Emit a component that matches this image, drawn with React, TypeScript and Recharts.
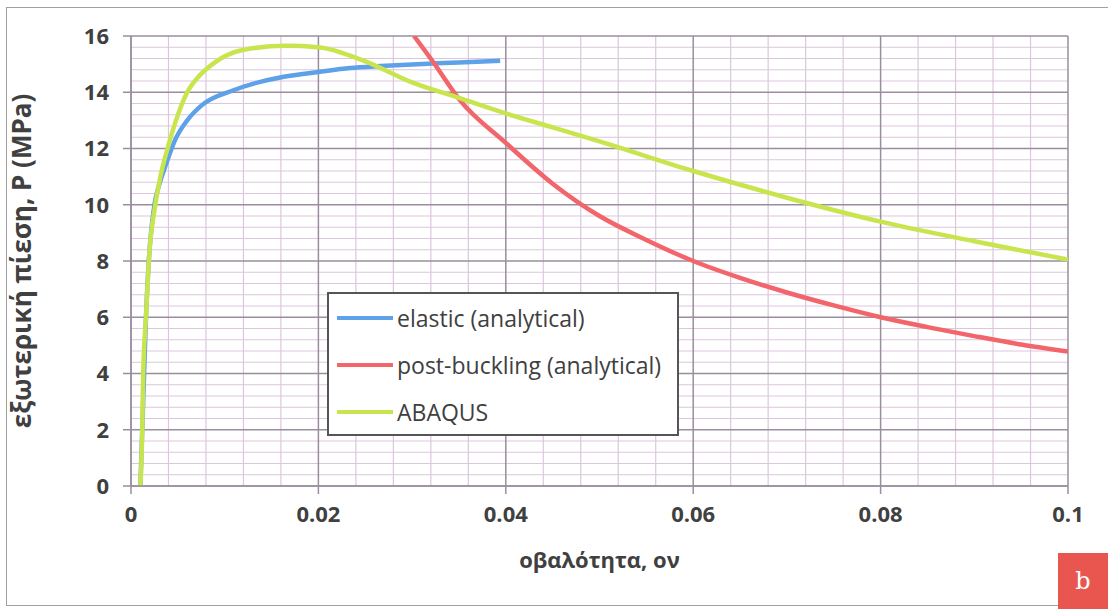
import React from "react";
import {
  LineChart,
  Line,
  XAxis,
  YAxis,
  ReferenceLine,
  Legend,
} from "recharts";

// ---- data ----
const elastic = [
  { v: 0.001, p: 0 },
  { v: 0.0012, p: 2 },
  { v: 0.0014, p: 4 },
  { v: 0.0016, p: 6 },
  { v: 0.0019, p: 8 },
  { v: 0.0025, p: 10 },
  { v: 0.003, p: 10.7 },
  { v: 0.0037, p: 11.4 },
  { v: 0.0047, p: 12.3 },
  { v: 0.006, p: 13.0 },
  { v: 0.0076, p: 13.55 },
  { v: 0.011, p: 14.08 },
  { v: 0.0163, p: 14.55 },
  { v: 0.02, p: 14.72 },
  { v: 0.0234, p: 14.86 },
  { v: 0.0266, p: 14.93 },
  { v: 0.03, p: 14.99 },
  { v: 0.035, p: 15.06 },
  { v: 0.0394, p: 15.12 },
];

const postBuckling = [
  { v: 0.0302, p: 16 },
  { v: 0.0323, p: 15.05 },
  { v: 0.0351, p: 13.72 },
  { v: 0.04, p: 12.2 },
  { v: 0.045, p: 10.75 },
  { v: 0.05, p: 9.6 },
  { v: 0.055, p: 8.75 },
  { v: 0.06, p: 8.0 },
  { v: 0.065, p: 7.4 },
  { v: 0.07, p: 6.88 },
  { v: 0.075, p: 6.42 },
  { v: 0.08, p: 6.0 },
  { v: 0.085, p: 5.65 },
  { v: 0.09, p: 5.33 },
  { v: 0.095, p: 5.03 },
  { v: 0.1, p: 4.78 },
];

const abaqus = [
  { v: 0.001, p: 0 },
  { v: 0.0012, p: 2 },
  { v: 0.0013, p: 4 },
  { v: 0.0016, p: 6 },
  { v: 0.0019, p: 8 },
  { v: 0.0026, p: 10 },
  { v: 0.0032, p: 11.1 },
  { v: 0.0039, p: 12 },
  { v: 0.0048, p: 13 },
  { v: 0.006, p: 14 },
  { v: 0.0072, p: 14.55 },
  { v: 0.0087, p: 15 },
  { v: 0.0119, p: 15.5 },
  { v: 0.0165, p: 15.65 },
  { v: 0.02, p: 15.6 },
  { v: 0.025, p: 15.1 },
  { v: 0.03, p: 14.35 },
  { v: 0.035, p: 13.8 },
  { v: 0.04, p: 13.25 },
  { v: 0.045, p: 12.75 },
  { v: 0.05, p: 12.25 },
  { v: 0.06, p: 11.2 },
  { v: 0.07, p: 10.25 },
  { v: 0.08, p: 9.4 },
  { v: 0.09, p: 8.7 },
  { v: 0.1, p: 8.05 },
];

const seriesNames = ["elastic (analytical)", "post-buckling (analytical)", "ABAQUS"];
const seriesColors = ["#5da2e8", "#f2666b", "#c8e54e"];
const seriesData = [elastic, postBuckling, abaqus];

const xTicks = [0, 0.02, 0.04, 0.06, 0.08, 0.1];
const yTicks = [0, 2, 4, 6, 8, 10, 12, 14, 16];
const xMinor = [
  0.004, 0.008, 0.012, 0.016, 0.024, 0.028, 0.032, 0.036, 0.044, 0.048, 0.052,
  0.056, 0.064, 0.068, 0.072, 0.076, 0.084, 0.088, 0.092, 0.096,
];
const yMinor = [
  0.4, 0.8, 1.2, 1.6, 2.4, 2.8, 3.2, 3.6, 4.4, 4.8, 5.2, 5.6, 6.4, 6.8, 7.2, 7.6,
  8.4, 8.8, 9.2, 9.6, 10.4, 10.8, 11.2, 11.6, 12.4, 12.8, 13.2, 13.6, 14.4, 14.8,
  15.2, 15.6,
];

const xLabel = "οβαλότητα, ον";
const yLabel = "εξωτερική πίεση, P (MPa)";

const FONT = "'Open Sans', 'Noto Sans', sans-serif";
const TEXT = "#404040";
const MINOR = "#dcc6de";
const MAJOR = "#9a8e9e";

const LegendBox = () => (
  <div
    style={{
      position: "absolute",
      left: 327,
      top: 292,
      width: 352,
      height: 144,
      border: "2px solid #555",
      background: "#fff",
      boxSizing: "border-box",
      fontFamily: FONT,
      fontSize: 23,
      color: TEXT,
      paddingTop: 0,
    }}
  >
    {seriesNames.map((n, i) => (
      <div
        key={n}
        style={{ display: "flex", alignItems: "center", height: 47, paddingLeft: 8 }}
      >
        <div
          style={{ width: 56, height: 4, background: seriesColors[i], marginRight: 4 }}
        />
        <span>{n}</span>
      </div>
    ))}
  </div>
);

export default function App() {
  return (
    <div
      style={{
        position: "fixed",
        left: 0,
        top: 0,
        width: 1108,
        height: 609,
        background: "#fff",
        overflow: "hidden",
      }}
    >
      <div
        style={{
          position: "absolute",
          left: 6,
          top: 7,
          width: 1110,
          height: 599,
          border: "1.5px solid #a0a0a0",
          boxSizing: "border-box",
        }}
      />
      <LineChart
        width={1108}
        height={609}
        margin={{ top: 36, right: 40, left: 0, bottom: 0 }}
        style={{ position: "absolute", left: 0, top: 0 }}
      >
        {xMinor.map((x) => (
          <ReferenceLine key={"xm" + x} x={x} stroke={MINOR} strokeWidth={1.2} />
        ))}
        {yMinor.map((y) => (
          <ReferenceLine key={"ym" + y} y={y} stroke={MINOR} strokeWidth={1.2} />
        ))}
        {xTicks.map((x) => (
          <ReferenceLine key={"xM" + x} x={x} stroke={MAJOR} strokeWidth={1.5} />
        ))}
        {yTicks.map((y) => (
          <ReferenceLine key={"yM" + y} y={y} stroke={MAJOR} strokeWidth={1.5} />
        ))}
        <XAxis
          type="number"
          dataKey="v"
          domain={[0, 0.1]}
          ticks={xTicks}
          allowDataOverflow
          height={123}
          tickSize={8}
          tickMargin={12}
          stroke={MAJOR}
          strokeWidth={1.5}
          tick={{ fill: TEXT, fontFamily: FONT, fontSize: 22, fontWeight: 700 }}
          label={{
            value: xLabel,
            position: "insideTop",
            offset: 66,
            fill: TEXT,
            fontFamily: FONT,
            fontSize: 22,
            fontWeight: 700,
          }}
        />
        <YAxis
          type="number"
          dataKey="p"
          domain={[0, 16]}
          ticks={yTicks}
          allowDataOverflow
          width={131}
          tickSize={8}
          tickMargin={14}
          stroke={MAJOR}
          strokeWidth={1.5}
          tick={{ fill: TEXT, fontFamily: FONT, fontSize: 22, fontWeight: 700 }}
          label={{
            value: yLabel,
            angle: -90,
            position: "insideLeft",
            offset: 22,
            style: { textAnchor: "middle" },
            fill: TEXT,
            fontFamily: FONT,
            fontSize: 26,
            fontWeight: 700,
          }}
        />
        {seriesData.map((d, i) => (
          <Line
            key={seriesNames[i]}
            data={d}
            dataKey="p"
            name={seriesNames[i]}
            type="monotone"
            stroke={seriesColors[i]}
            strokeWidth={4.5}
            dot={false}
            activeDot={false}
            isAnimationActive={false}
          />
        ))}
        <Legend content={() => null} />
      </LineChart>
      <LegendBox />
      <div
        style={{
          position: "absolute",
          left: 1058,
          top: 553,
          width: 50,
          height: 56,
          background: "#e9564f",
          color: "#fff",
          fontFamily: "'DejaVu Serif', 'Liberation Serif', serif",
          fontSize: 24,
          display: "flex",
          alignItems: "center",
          justifyContent: "center",
        }}
      >
        b
      </div>
    </div>
  );
}
